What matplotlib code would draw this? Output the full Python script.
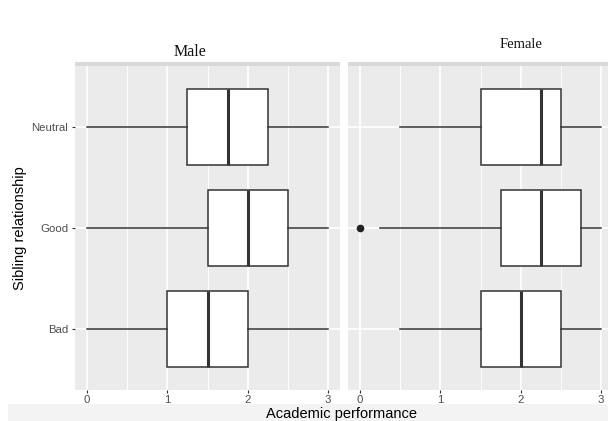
import matplotlib.pyplot as plt
from matplotlib.patches import Rectangle

# categories, bottom to top
groups = ["Bad", "Good", "Neutral"]
panels = ["Male", "Female"]

# five-number summaries: (low whisker, q1, median, q3, high whisker)
male_stats = {
    "Bad": (0, 1.0, 1.5, 2.0, 3),
    "Good": (0, 1.5, 2.0, 2.5, 3),
    "Neutral": (0, 1.25, 1.75, 2.25, 3),
}
female_stats = {
    "Bad": (0.5, 1.5, 2.0, 2.5, 3),
    "Good": (0.25, 1.75, 2.25, 2.75, 3),
    "Neutral": (0.5, 1.5, 2.25, 2.5, 3),
}
female_outliers = {"Bad": [], "Good": [0], "Neutral": []}
male_outliers = {"Bad": [], "Good": [], "Neutral": []}

x_ticks = [0, 1, 2, 3]

W, H = 608, 421
fig = plt.figure(figsize=(W / 100, H / 100), dpi=100)
plt.rcParams['font.family'] = ['Liberation Sans', 'DejaVu Sans']

# bottom shaded band
fig.patches.append(Rectangle((8 / W, 0), 1, 17 / H, transform=fig.transFigure,
                             facecolor='#f3f3f3', edgecolor='none', zorder=0))

ax_l = fig.add_axes([75 / W, 31 / H, 265 / W, 324 / H])
ax_r = fig.add_axes([348 / W, 31 / H, 265 / W, 324 / H])

line_col = '#333333'
for ax, stats, outs in [(ax_l, male_stats, male_outliers), (ax_r, female_stats, female_outliers)]:
    bxp = []
    for g in groups:
        lo, q1, med, q3, hi = stats[g]
        bxp.append(dict(whislo=lo, q1=q1, med=med, q3=q3, whishi=hi, fliers=outs[g], label=g))
    ax.bxp(bxp, positions=[1, 2, 3], widths=0.75, vert=False, patch_artist=True,
           showcaps=False,
           boxprops=dict(facecolor='white', edgecolor=line_col, linewidth=1.1),
           medianprops=dict(color=line_col, linewidth=2.2),
           whiskerprops=dict(color=line_col, linewidth=1.1),
           flierprops=dict(marker='o', markersize=4.5, markerfacecolor='#222222',
                           markeredgecolor='#222222'))
    ax.set_facecolor('#ebebeb')
    ax.set_xlim(-0.15, 3.15)
    ax.set_ylim(0.4, 3.6)
    ax.set_xticks(x_ticks)
    ax.set_xticklabels([str(t) for t in x_ticks])
    ax.set_xticks([0.5, 1.5, 2.5], minor=True)
    ax.set_yticks([1, 2, 3])
    ax.grid(True, which='major', color='white', linewidth=1.2)
    ax.grid(True, which='minor', axis='x', color='white', linewidth=0.6)
    ax.set_axisbelow(True)
    for s in ax.spines.values():
        s.set_visible(False)
    ax.tick_params(axis='both', which='major', length=2.5, color='#333333',
                   labelcolor='#4d4d4d', labelsize=8.2, pad=2.5)
    ax.tick_params(axis='x', which='major', pad=1)
    ax.tick_params(axis='both', which='minor', length=0)

ax_l.set_yticklabels(groups)
ax_r.set_yticklabels([])
ax_r.tick_params(axis='y', length=0)

# strip bars above panels
for x0, x1 in [(75, 340), (348, 613)]:
    fig.patches.append(Rectangle((x0 / W, (421 - 66) / H), (x1 - x0) / W, 4 / H,
                                 transform=fig.transFigure, facecolor='#d9d9d9',
                                 edgecolor='none'))

# panel titles
fig.text(190 / W, 1 - 52 / H, "Male", ha='center', va='center',
         family='Liberation Serif', fontsize=11.5, color='#111111')
fig.text(521 / W, 1 - 45 / H, "Female", ha='center', va='center',
         family='Liberation Serif', fontsize=10.5, color='#111111')

fig.text(20 / W, 1 - 228 / H, "Sibling relationship", rotation=90,
         ha='center', va='center', fontsize=10.5, color='black')
fig.text(341 / W, 0, "Academic performance", ha='center', va='bottom',
         fontsize=10.5, color='black')

fig.savefig("out.png", dpi=100)
